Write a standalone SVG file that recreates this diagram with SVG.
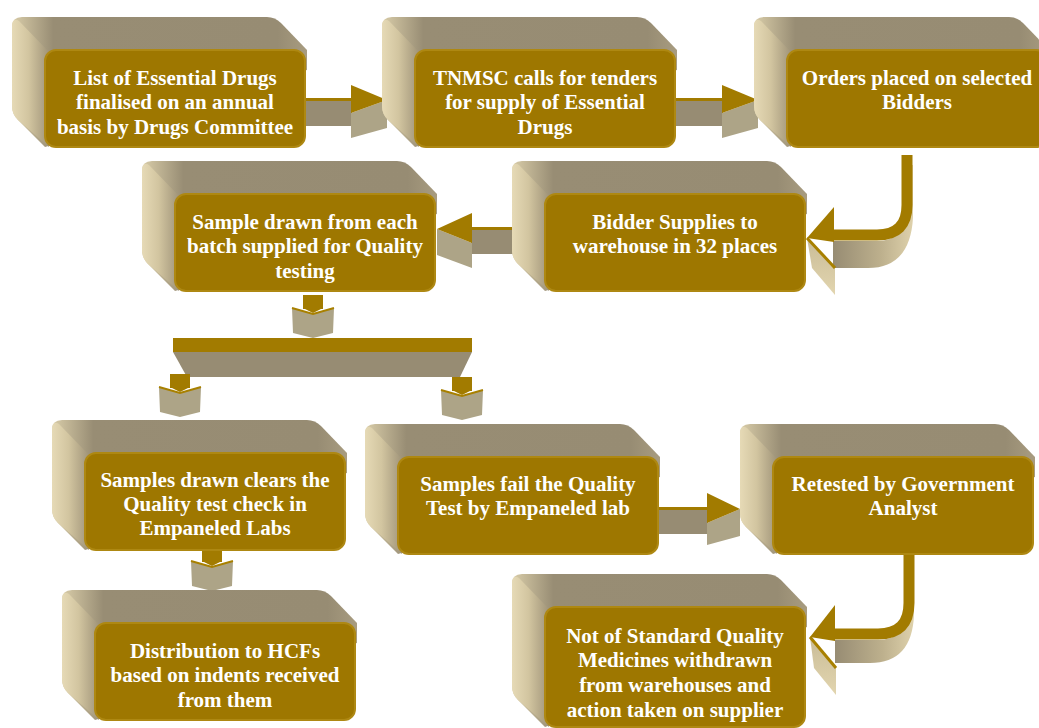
<svg xmlns="http://www.w3.org/2000/svg" xmlns:xlink="http://www.w3.org/1999/xlink" width="1039" height="728" viewBox="0 0 1039 728">
<defs>
<linearGradient id="gTop" x1="0" y1="0" x2="1" y2="0">
<stop offset="0" stop-color="#D9CDA9"/>
<stop offset="0.14" stop-color="#988D74"/>
<stop offset="0.9" stop-color="#978C73"/>
<stop offset="1" stop-color="#A89C80"/>
</linearGradient>
<linearGradient id="gLeft" x1="0" y1="0" x2="1" y2="0">
<stop offset="0" stop-color="#E6DAB6"/>
<stop offset="0.45" stop-color="#D2C5A0"/>
<stop offset="1" stop-color="#A09479"/>
</linearGradient>
<linearGradient id="gCurve" x1="0" y1="0" x2="1" y2="0">
<stop offset="0" stop-color="#978C73"/>
<stop offset="0.6" stop-color="#BDB08D"/>
<stop offset="1" stop-color="#DED1AB"/>
</linearGradient>
<linearGradient id="gHead" x1="0" y1="0" x2="0" y2="1">
<stop offset="0" stop-color="#C9BC97"/>
<stop offset="1" stop-color="#E2D5AF"/>
</linearGradient>
<g id="box">
<path class="top" d="M -23,-33 L 222,-33 Q 230,-33 236,-27 L 262,0 L 262,20 L 0,97 L -27,70 Q -33,64 -33,56 L -33,-23 Q -33,-33 -23,-33 Z"/>
<path class="left" d="M -33,-23 Q -33,-33 -26,-29 L 4,2 L 4,97 L -27,70 Q -33,64 -33,56 Z"/>
<rect class="front" x="0" y="0" width="260" height="97" rx="11"/>
</g>
<g id="boxTall">
<path class="top" d="M -23,-33 L 222,-33 Q 230,-33 236,-27 L 262,0 L 262,20 L 0,120 L -27,93 Q -33,87 -33,79 L -33,-23 Q -33,-33 -23,-33 Z"/>
<path class="left" d="M -33,-23 Q -33,-33 -26,-29 L 4,2 L 4,120 L -27,93 Q -33,87 -33,79 Z"/>
<rect class="front" x="0" y="0" width="260" height="120" rx="11"/>
</g>
<g id="down">
<polygon class="tan" points="-11,13 10,19 31,13 30,38 10,43 -10,38"/>
<rect class="gold" x="0" y="0" width="20" height="14"/>
<polygon class="gold" points="0,13 20,13 10,18"/>
<polyline class="goldEdge" points="-11,13 10,19 31,13"/>
</g>
</defs>
<style>
.top{fill:url(#gTop);}
.left{fill:url(#gLeft);}
.front{fill:#9E7700;stroke:#AE8812;stroke-width:2;}
.gold{fill:#A27B00;}
.goldEdge{fill:none;stroke:#A88000;stroke-width:2;}
.tan{fill:#ADA487;}
.shaft{fill:#978C73;}
.ribbon{fill:none;stroke:#A27B00;stroke-width:11;}
text{font-family:"Liberation Serif","Times New Roman",serif;font-weight:bold;font-size:21px;fill:#FFFFFF;text-anchor:middle;}
</style>
<rect width="1039" height="728" fill="#FFFFFF"/>

<g id="connectors">
<!-- 1 -> 2 -->
<rect class="shaft" x="303" y="99" width="49" height="27"/>
<rect class="gold" x="303" y="98" width="49" height="3"/>
<polygon class="tan" points="351,113 387,100 387,128 351,138"/>
<polygon class="gold" points="351,85 387,100 351,113"/>
<!-- 2 -> 3 -->
<rect class="shaft" x="675" y="99" width="48" height="27"/>
<rect class="gold" x="675" y="98" width="48" height="3"/>
<polygon class="tan" points="722,113 758,100 758,128 722,138"/>
<polygon class="gold" points="722,85 758,100 722,113"/>
<!-- 3 -> 5 curved -->
<path fill="url(#gCurve)" d="M 833,241 L 878,241 Q 903,241 904,212 L 904,165 L 913,165 L 913,218 Q 910,268 868,268 L 833,268 Z"/>
<polygon fill="url(#gHead)" points="807,238 835,268 835,295 812,268"/>
<path class="ribbon" d="M 907,155 L 907,205 Q 907,235 877,235 L 832,235"/>
<polygon class="gold" points="834,207 807,238 834,242"/>
<line x1="807" y1="238" x2="835" y2="268" stroke="#A88000" stroke-width="3"/>
<!-- 5 -> 4 -->
<rect class="shaft" x="471" y="228" width="48" height="26"/>
<rect class="gold" x="471" y="227" width="48" height="3"/>
<polygon class="tan" points="437,229 437,255 472,268 472,243"/>
<polygon class="gold" points="472,213 437,229 472,243"/>
<!-- 4 -> bar -->
<use xlink:href="#down" href="#down" transform="translate(303,295)"/>
<!-- bar -->
<polygon class="shaft" points="173,352 472,352 460,377 187,377"/>
<rect class="gold" x="173" y="338" width="299" height="14"/>
<!-- bar -> 6 / 8 -->
<use xlink:href="#down" href="#down" transform="translate(170,374)"/>
<use xlink:href="#down" href="#down" transform="translate(452,377)"/>
<!-- 6 -> 7 -->
<use xlink:href="#down" href="#down" transform="translate(202,548)"/>
<!-- 8 -> 9 -->
<rect class="shaft" x="659" y="508" width="49" height="26"/>
<rect class="gold" x="659" y="507" width="49" height="3"/>
<polygon class="tan" points="707,523 740,509 740,536 707,545"/>
<polygon class="gold" points="707,493 740,509 707,523"/>
<!-- 9 -> 10 curved -->
<path fill="url(#gCurve)" d="M 835,640 L 878,640 Q 905,640 906,612 L 906,565 L 914,565 L 914,615 Q 912,663 870,663 L 835,663 Z"/>
<polygon fill="url(#gHead)" points="810,637 836,668 836,695 814,668"/>
<path class="ribbon" d="M 909,552 L 909,603 Q 909,634 878,634 L 834,634"/>
<polygon class="gold" points="835,605 810,637 835,641"/>
<line x1="810" y1="637" x2="836" y2="668" stroke="#A88000" stroke-width="3"/>
</g>

<g id="n1" transform="translate(45,50)">
<use xlink:href="#box" href="#box"/>
<text x="130" y="35">List of Essential Drugs</text>
<text x="130" y="59">finalised on an annual</text>
<text x="130" y="84">basis by Drugs Committee</text>
</g>
<g id="n2" transform="translate(415,50)">
<use xlink:href="#box" href="#box"/>
<text x="130" y="35">TNMSC calls for tenders</text>
<text x="130" y="59">for supply of Essential</text>
<text x="130" y="84">Drugs</text>
</g>
<g id="n3" transform="translate(787,50)">
<use xlink:href="#box" href="#box"/>
<text x="130" y="35">Orders placed on selected</text>
<text x="130" y="59">Bidders</text>
</g>
<g id="n5" transform="translate(545,194)">
<use xlink:href="#box" href="#box"/>
<text x="130" y="35">Bidder Supplies to</text>
<text x="130" y="59">warehouse in 32 places</text>
</g>
<g id="n4" transform="translate(175,194)">
<use xlink:href="#box" href="#box"/>
<text x="130" y="35">Sample drawn from each</text>
<text x="130" y="59">batch supplied for Quality</text>
<text x="130" y="84">testing</text>
</g>
<g id="n6" transform="translate(85,453)">
<use xlink:href="#box" href="#box"/>
<text x="130" y="34">Samples drawn clears the</text>
<text x="130" y="58">Quality test check in</text>
<text x="130" y="82">Empaneled Labs</text>
</g>
<g id="n7" transform="translate(95,623)">
<use xlink:href="#box" href="#box"/>
<text x="130" y="35">Distribution to HCFs</text>
<text x="130" y="59">based on indents received</text>
<text x="130" y="84">from them</text>
</g>
<g id="n8" transform="translate(398,457)">
<use xlink:href="#box" href="#box"/>
<text x="130" y="34">Samples fail the Quality</text>
<text x="130" y="58">Test by Empaneled lab</text>
</g>
<g id="n9" transform="translate(773,457)">
<use xlink:href="#box" href="#box"/>
<text x="130" y="34">Retested by Government</text>
<text x="130" y="58">Analyst</text>
</g>
<g id="n10" transform="translate(545,607)">
<use xlink:href="#boxTall" href="#boxTall"/>
<text x="130" y="36">Not of Standard Quality</text>
<text x="130" y="60">Medicines withdrawn</text>
<text x="130" y="85">from warehouses and</text>
<text x="130" y="110">action taken on supplier</text>
</g>
</svg>
